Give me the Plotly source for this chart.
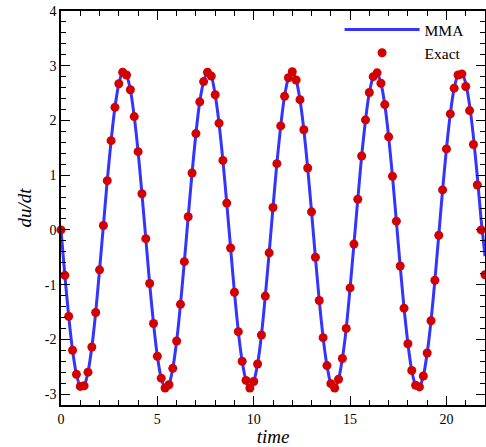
import plotly.graph_objects as go

time = [0.0, 0.2, 0.4, 0.6, 0.8, 1.0, 1.2, 1.4, 1.6, 1.8,
        2.0, 2.2, 2.4, 2.6, 2.8, 3.0, 3.2, 3.4, 3.6, 3.8,
        4.0, 4.2, 4.4, 4.6, 4.8, 5.0, 5.2, 5.4, 5.6, 5.8,
        6.0, 6.2, 6.4, 6.6, 6.8, 7.0, 7.2, 7.4, 7.6, 7.8,
        8.0, 8.2, 8.4, 8.6, 8.8, 9.0, 9.2, 9.4, 9.6, 9.8,
        10.0, 10.2, 10.4, 10.6, 10.8, 11.0, 11.2, 11.4, 11.6, 11.8,
        12.0, 12.2, 12.4, 12.6, 12.8, 13.0, 13.2, 13.4, 13.6, 13.8,
        14.0, 14.2, 14.4, 14.6, 14.8, 15.0, 15.2, 15.4, 15.6, 15.8,
        16.0, 16.2, 16.4, 16.6, 16.8, 17.0, 17.2, 17.4, 17.6, 17.8,
        18.0, 18.2, 18.4, 18.6, 18.8, 19.0, 19.2, 19.4, 19.6, 19.8,
        20.0, 20.2, 20.4, 20.6, 20.8, 21.0, 21.2, 21.4, 21.6, 21.8,
        22.0]

exact = [0.00, -0.83, -1.58, -2.20, -2.64, -2.86, -2.85, -2.60, -2.14, -1.51,
         -0.73, 0.08, 0.90, 1.63, 2.24, 2.67, 2.88, 2.83, 2.56, 2.07,
         1.43, 0.66, -0.16, -0.98, -1.71, -2.31, -2.71, -2.89, -2.83, -2.53,
         -2.03, -1.36, -0.58, 0.24, 1.04, 1.76, 2.34, 2.71, 2.88, 2.81,
         2.47, 1.95, 1.27, 0.49, -0.33, -1.14, -1.86, -2.40, -2.75, -2.89,
         -2.77, -2.45, -1.92, -1.21, -0.42, 0.41, 1.21, 1.90, 2.44, 2.78,
         2.89, 2.74, 2.38, 1.83, 1.13, 0.33, -0.50, -1.29, -1.97, -2.48,
         -2.81, -2.89, -2.73, -2.35, -1.80, -1.06, -0.26, 0.56, 1.35, 2.01,
         2.51, 2.80, 2.87, 2.68, 2.29, 1.70, 0.98, 0.16, -0.66, -1.43,
         -2.08, -2.57, -2.84, -2.87, -2.67, -2.25, -1.66, -0.92, -0.10, 0.73,
         1.48, 2.12, 2.59, 2.83, 2.85, 2.62, 2.18, 1.56, 0.82, 0.00,
         -0.82]

mma = [0.00, -0.83, -1.58, -2.20, -2.64, -2.86, -2.85, -2.60, -2.14, -1.51,
       -0.73, 0.08, 0.90, 1.63, 2.24, 2.67, 2.88, 2.83, 2.56, 2.07,
       1.43, 0.66, -0.16, -0.98, -1.71, -2.31, -2.71, -2.89, -2.83, -2.53,
       -2.03, -1.36, -0.58, 0.24, 1.04, 1.76, 2.34, 2.71, 2.88, 2.81,
       2.47, 1.95, 1.27, 0.49, -0.33, -1.14, -1.86, -2.40, -2.75, -2.89,
       -2.77, -2.45, -1.92, -1.21, -0.42, 0.41, 1.21, 1.90, 2.44, 2.78,
       2.89, 2.74, 2.38, 1.83, 1.13, 0.33, -0.50, -1.29, -1.97, -2.48,
       -2.81, -2.89, -2.73, -2.35, -1.80, -1.06, -0.26, 0.56, 1.35, 2.01,
       2.51, 2.80, 2.87, 2.68, 2.29, 1.70, 0.98, 0.16, -0.66, -1.43,
       -2.08, -2.57, -2.84, -2.87, -2.67, -2.25, -1.66, -0.92, -0.10, 0.73,
       1.48, 2.12, 2.59, 2.83, 2.86, 2.68, 2.28, 1.70, 0.98, 0.18,
       -0.48]

x_tickvals = [0, 5, 10, 15, 20]
x_ticktext = ["0", "5", "10", "15", "20"]
y_tickvals = [-3, -2, -1, 0, 1, 2, 3, 4]
y_ticktext = ["-3", "-2", "-1", "0", "1", "2", "3", "4"]

SERIF = "Liberation Serif, Times New Roman, serif"

fig = go.Figure()
fig.add_trace(go.Scatter(
    x=time, y=mma, mode="lines", name="MMA",
    line=dict(color="#3434ff", width=3, shape="spline", smoothing=0.6),
))
fig.add_trace(go.Scatter(
    x=time, y=exact, mode="markers", name="Exact",
    marker=dict(color="#d40000", size=9, line=dict(width=0)),
    cliponaxis=False,
))

axis_common = dict(
    showline=True, linecolor="black", linewidth=1.6, mirror="allticks",
    ticks="inside", ticklen=9, tickwidth=1.2, tickcolor="black",
    showgrid=False, zeroline=False, automargin=False,
    tickfont=dict(family=SERIF, size=14, color="black"),
)

fig.update_xaxes(
    range=[0, 22], tickvals=x_tickvals, ticktext=x_ticktext,
    minor=dict(ticks="inside", ticklen=5, tickwidth=1.2, tickcolor="black", dtick=1, showgrid=False),
    title=dict(text="<i>time</i>", font=dict(family=SERIF, size=19, color="black"), standoff=2),
    **axis_common,
)
fig.update_yaxes(
    range=[-3.2, 4], tickvals=y_tickvals, ticktext=y_ticktext,
    minor=dict(ticks="inside", ticklen=5, tickwidth=1.2, tickcolor="black", dtick=0.2, tick0=0, showgrid=False),
    title=dict(text="<i>du/dt</i>", font=dict(family=SERIF, size=19, color="black"), standoff=8),
    **axis_common,
)

fig.update_layout(
    width=486, height=447,
    margin=dict(l=61, r=1, t=11, b=42),
    plot_bgcolor="white", paper_bgcolor="white",
    showlegend=True,
    legend=dict(
        x=0.657, y=0.995, xanchor="left", yanchor="top",
        bgcolor="rgba(0,0,0,0)", borderwidth=0,
        font=dict(family=SERIF, size=15.5, color="black"),
        itemwidth=75, tracegroupgap=0,
    ),
)

fig.write_html("out.html", config={"displayModeBar": False},
               post_script="document.body.style.margin='0';")
